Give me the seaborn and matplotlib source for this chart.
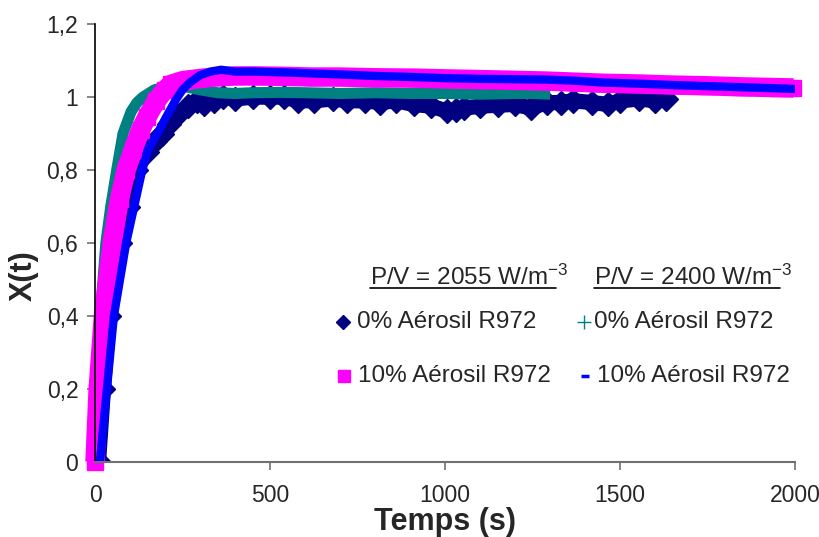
import numpy as np
import pandas as pd
import seaborn as sns
from matplotlib import pyplot as plt
from matplotlib.lines import Line2D

# P/V = 2055 W/m-3, 0% Aerosil (navy diamonds)
t_2055_0 = [10, 24, 40, 72, 95, 118, 148, 172, 190, 210, 235, 265, 290, 310, 340, 365, 400, 450, 500,
            540, 580, 625, 680, 720, 770, 815, 860, 910, 960, 1005, 1030, 1055, 1100, 1150, 1200,
            1245, 1290, 1330, 1365, 1420, 1465, 1500, 1555, 1600, 1630]
x_2055_0 = [0, 0.2, 0.4, 0.6, 0.7, 0.8, 0.85, 0.88, 0.9, 0.925, 0.95, 0.975, 0.99, 0.98, 0.99, 1.0,
            0.995, 1.0, 1.0, 1.0, 0.99, 0.99, 0.995, 0.99, 0.99, 0.985, 0.99, 0.98, 0.975, 0.962,
            0.965, 0.97, 0.975, 0.978, 0.98, 0.97, 0.985, 0.985, 0.99, 0.985, 0.98, 0.99, 0.995,
            0.99, 0.995]

# P/V = 2055 W/m-3, 10% Aerosil (magenta squares)
t_2055_10 = [0, 9, 24, 49, 70, 89, 109, 130, 148, 175, 200, 217, 250, 290, 340, 400, 460, 530, 620,
             700, 800, 910, 1000, 1100, 1200, 1290, 1370, 1450, 1550, 1650, 1750, 1850, 1950, 1995]
x_2055_10 = [0, 0.2, 0.4, 0.6, 0.72, 0.8, 0.855, 0.91, 0.945, 0.99, 1.02, 1.035, 1.045, 1.05, 1.055,
             1.058, 1.058, 1.057, 1.055, 1.055, 1.053, 1.052, 1.05, 1.048, 1.046, 1.044, 1.041,
             1.038, 1.036, 1.033, 1.031, 1.028, 1.026, 1.025]

# P/V = 2400 W/m-3, 0% Aerosil (teal crosses)
t_2400_0 = [0, 5, 15, 31, 45, 62, 80, 103, 120, 137, 170, 210, 250, 300, 350, 400, 450, 530, 600,
            700, 800, 900, 1000, 1100, 1200, 1250, 1300]
x_2400_0 = [0, 0.2, 0.4, 0.6, 0.7, 0.8, 0.9, 0.96, 0.985, 1.0, 1.02, 1.03, 1.03, 1.02, 1.012, 1.01,
            1.012, 1.013, 1.012, 1.01, 1.012, 1.01, 1.01, 1.008, 1.01, 1.01, 1.008]

# P/V = 2400 W/m-3, 10% Aerosil (blue dashes)
t_2400_10 = [14, 34, 54, 89, 112, 135, 151, 178, 203, 229, 250, 271, 300, 330, 360, 400, 450, 530,
             620, 700, 800, 910, 1000, 1100, 1200, 1290, 1370, 1450, 1550, 1650, 1750, 1850, 1950, 2005]
x_2400_10 = [0, 0.2, 0.4, 0.6, 0.7, 0.8, 0.855, 0.9, 0.945, 0.99, 1.02, 1.04, 1.06, 1.07, 1.075,
             1.07, 1.07, 1.068, 1.065, 1.062, 1.058, 1.055, 1.052, 1.05, 1.049, 1.048, 1.045, 1.04,
             1.037, 1.033, 1.03, 1.027, 1.024, 1.022]

label_0 = '0% Aérosil R972'
label_10 = '10% Aérosil R972'
header_2055 = 'P/V = 2055 W/m$^{-3}$'
header_2400 = 'P/V = 2400 W/m$^{-3}$'

y_ticks = [0, 0.2, 0.4, 0.6, 0.8, 1.0, 1.2]
y_ticklabels = ['0', '0,2', '0,4', '0,6', '0,8', '1', '1,2']
x_ticks = [0, 500, 1000, 1500, 2000]


if __name__ == '__main__':

    sns.set_style('ticks')
    plt.rcParams['font.family'] = ['Liberation Sans', 'DejaVu Sans']
    plt.rcParams['mathtext.fontset'] = 'custom'
    plt.rcParams['mathtext.rm'] = 'Liberation Sans'
    plt.rcParams['mathtext.it'] = 'Liberation Sans'

    fig = plt.figure(figsize=(8.19, 5.37), dpi=100)
    ax = fig.add_axes([0.116, 0.140, 0.855, 0.815])

    # drawing order: navy, teal, magenta, blue
    series = [
        (t_2055_0, x_2055_0, '#000080', 11, 'D', 12, True),
        (t_2400_0, x_2400_0, '#008080', 8, None, 0, True),
        (t_2055_10, x_2055_10, '#FF00FF', 14, 's', 12, False),
        (t_2400_10, x_2400_10, '#0000FF', 6, None, 0, True),
    ]
    for t, x, color, lw, mk, ms, clip in series:
        df = pd.DataFrame({'t': t, 'x': x})
        kw = dict(marker=mk, markersize=ms, markeredgecolor=color, markeredgewidth=1) if mk else {}
        sns.lineplot(data=df, x='t', y='x', color=color, linewidth=lw, estimator=None, sort=False,
                     ax=ax, clip_on=clip, solid_joinstyle='round', solid_capstyle='butt', **kw)

    ax.set_xlim(0, 2000)
    ax.set_ylim(0, 1.2)
    ax.set_xticks(x_ticks)
    ax.set_xticklabels([str(v) for v in x_ticks], fontsize=16.5)
    ax.set_yticks(y_ticks)
    ax.set_yticklabels(y_ticklabels, fontsize=16.5)
    ax.set_xlabel('Temps (s)', fontsize=22, fontweight='bold', labelpad=0)
    ax.set_ylabel('X(t)', fontsize=22, fontweight='bold')
    ax.yaxis.set_label_coords(-0.08, 0.425)

    for side in ['top', 'right']:
        ax.spines[side].set_visible(False)
    ax.spines['left'].set_color('black')
    ax.spines['bottom'].set_color('#707070')
    ax.spines['left'].set_linewidth(1.2)
    ax.spines['bottom'].set_linewidth(1.5)
    ax.tick_params(axis='both', direction='out', length=6, width=1.2, color='#707070', pad=6)
    ax.tick_params(axis='x', pad=10)

    W, H = 819, 537

    def fx(px):
        return px / W

    def fy(py):
        return 1 - py / H

    fs = 17.5
    h1 = fig.text(fx(370), fy(285), header_2055, fontsize=fs, va='baseline')
    h2 = fig.text(fx(594), fy(285), header_2400, fontsize=fs, va='baseline')
    fig.text(fx(357), fy(322), label_0, fontsize=fs, va='center')
    fig.text(fx(594), fy(322), label_0, fontsize=fs, va='center')
    fig.text(fx(358), fy(376), label_10, fontsize=fs, va='center')
    fig.text(fx(597), fy(376), label_10, fontsize=fs, va='center')

    fig.add_artist(Line2D([fx(343)], [fy(322)], marker='D', markersize=7, color='#000080',
                          linestyle='none', transform=fig.transFigure))
    fig.add_artist(Line2D([fx(584)], [fy(322)], marker='+', markersize=10, markeredgewidth=1,
                          color='#008080', linestyle='none', transform=fig.transFigure))
    fig.add_artist(Line2D([fx(344)], [fy(376)], marker='s', markersize=9, color='#FF00FF',
                          linestyle='none', transform=fig.transFigure))
    fig.add_artist(Line2D([fx(585)], [fy(376)], marker='_', markersize=6, markeredgewidth=2.5,
                          color='#0000FF', linestyle='none', transform=fig.transFigure))

    # underline headers (without the superscript)
    fig.canvas.draw()
    renderer = fig.canvas.get_renderer()
    for h in [h1, h2]:
        bb = h.get_window_extent(renderer)
        fig.add_artist(Line2D([bb.x0 / W, (bb.x1 - 12) / W], [fy(288), fy(288)], color='black',
                              linewidth=1.2, transform=fig.transFigure))

    fig.savefig('out.png', dpi=100)
